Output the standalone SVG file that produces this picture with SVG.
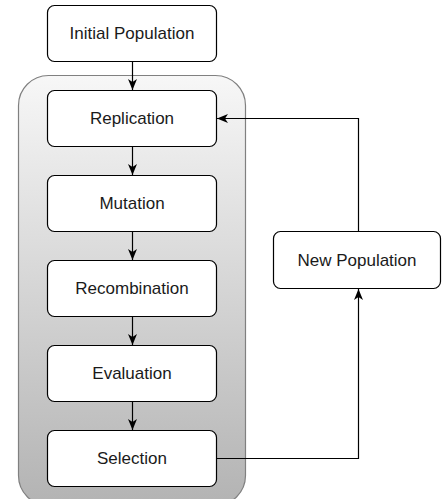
<svg xmlns="http://www.w3.org/2000/svg" width="442" height="499" viewBox="0 0 442 499">
<defs>
<linearGradient id="g" x1="0" y1="0" x2="0" y2="1">
<stop offset="0" stop-color="#f7f7f7"/>
<stop offset="1" stop-color="#b3b3b3"/>
</linearGradient>
<marker id="a" viewBox="0 0 11 10" refX="11" refY="5" markerWidth="11" markerHeight="10" markerUnits="userSpaceOnUse" orient="auto">
<path d="M0,0.5 L11,5 L0,9.5 L3,5 Z" fill="#000"/>
</marker>
<style>
.box{fill:#fff;stroke:#000;stroke-width:1.2}
.t{font-family:"Liberation Sans",Arial,sans-serif;font-size:17px;fill:#1a1a1a;text-anchor:middle;dominant-baseline:central}
.c{fill:none;stroke:#000;stroke-width:1.2;marker-end:url(#a)}
</style>
</defs>
<rect width="442" height="499" fill="#fff"/>
<g id="container">
<rect x="18.5" y="75.5" width="227" height="430" rx="30" ry="30" fill="url(#g)" stroke="#808080" stroke-width="1.2"/>
</g>
<g id="initial"><rect class="box" x="47.5" y="5.5" width="169" height="56" rx="7"/><text class="t" x="132" y="33.5">Initial Population</text></g>
<g id="replication"><rect class="box" x="47.5" y="90.5" width="169" height="56" rx="7"/><text class="t" x="132" y="118.5">Replication</text></g>
<g id="mutation"><rect class="box" x="47.5" y="175.5" width="169" height="56" rx="7"/><text class="t" x="132" y="203.5">Mutation</text></g>
<g id="recombination"><rect class="box" x="47.5" y="260.5" width="169" height="56" rx="7"/><text class="t" x="132" y="288.5">Recombination</text></g>
<g id="evaluation"><rect class="box" x="47.5" y="345.5" width="169" height="56" rx="7"/><text class="t" x="132" y="373.5">Evaluation</text></g>
<g id="selection"><rect class="box" x="47.5" y="430.5" width="169" height="56" rx="7"/><text class="t" x="132" y="458.5">Selection</text></g>
<g id="newpop"><rect class="box" x="273.5" y="231.5" width="167" height="57" rx="7"/><text class="t" x="357" y="260">New Population</text></g>
<g id="connectors">
<path class="c" d="M132.5,61.5 V90"/>
<path class="c" d="M132.5,146.5 V175"/>
<path class="c" d="M132.5,231.5 V260"/>
<path class="c" d="M132.5,316.5 V345"/>
<path class="c" d="M132.5,401.5 V430"/>
<path class="c" d="M216.5,458.5 H358.5 V289"/>
<path class="c" d="M358.5,231.5 V118.5 H217"/>
</g>
</svg>
